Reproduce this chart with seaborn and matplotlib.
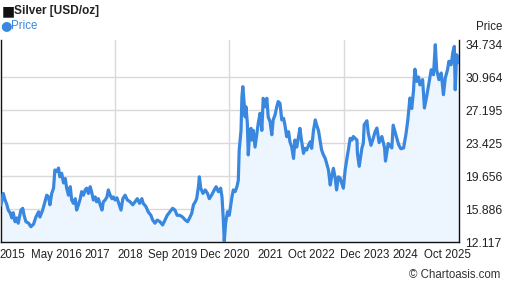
import matplotlib
matplotlib.use("Agg")
import matplotlib.pyplot as plt
import seaborn as sns
import pandas as pd
from matplotlib.ticker import FixedLocator

# ---- data ----
years = [2015.38, 2015.43, 2015.47, 2015.51, 2015.54, 2015.58, 2015.62, 2015.65, 2015.69, 2015.73,
         2015.76, 2015.82, 2015.86, 2015.89, 2015.93, 2015.99, 2016.04, 2016.10, 2016.15, 2016.21,
         2016.24, 2016.30, 2016.35, 2016.39, 2016.43, 2016.46, 2016.50, 2016.54, 2016.57, 2016.61,
         2016.65, 2016.68, 2016.72, 2016.76, 2016.80, 2016.83, 2016.87, 2016.91, 2016.94, 2016.98,
         2017.02, 2017.05, 2017.09, 2017.13, 2017.16, 2017.20, 2017.24, 2017.27, 2017.31, 2017.35,
         2017.38, 2017.42, 2017.46, 2017.49, 2017.53, 2017.57, 2017.61, 2017.64, 2017.68, 2017.72,
         2017.75, 2017.79, 2017.83, 2017.86, 2017.90, 2017.94, 2017.99, 2018.03, 2018.07, 2018.12,
         2018.17, 2018.23, 2018.29, 2018.34, 2018.39, 2018.44, 2018.49, 2018.52, 2018.58, 2018.63,
         2018.69, 2018.73, 2018.78, 2018.83, 2018.89, 2018.95, 2019.00, 2019.05, 2019.11, 2019.17,
         2019.22, 2019.27, 2019.33, 2019.39, 2019.45, 2019.50, 2019.54, 2019.59, 2019.63, 2019.67,
         2019.70, 2019.74, 2019.76, 2019.79, 2019.84, 2019.89, 2019.94, 2019.98, 2020.03, 2020.09,
         2020.13, 2020.18, 2020.23, 2020.26, 2020.29, 2020.31, 2020.34, 2020.38, 2020.42, 2020.48,
         2020.51, 2020.55, 2020.59, 2020.62, 2020.64, 2020.68, 2020.70, 2020.72, 2020.75, 2020.77,
         2020.79, 2020.82, 2020.84, 2020.87, 2020.90, 2020.92, 2020.95, 2020.99, 2021.03, 2021.06,
         2021.10, 2021.14, 2021.17, 2021.21, 2021.25, 2021.28, 2021.32, 2021.36, 2021.39, 2021.43,
         2021.47, 2021.50, 2021.54, 2021.58, 2021.62, 2021.65, 2021.69, 2021.73, 2021.76, 2021.80,
         2021.84, 2021.87, 2021.91, 2021.95, 2021.98, 2022.02, 2022.06, 2022.09, 2022.13, 2022.17,
         2022.21, 2022.24, 2022.28, 2022.32, 2022.35, 2022.39, 2022.43, 2022.46, 2022.50, 2022.54,
         2022.57, 2022.61, 2022.65, 2022.68, 2022.72, 2022.76, 2022.79, 2022.83, 2022.87, 2022.94,
         2022.98, 2023.02, 2023.05, 2023.09, 2023.13, 2023.16, 2023.20, 2023.24, 2023.25, 2023.29,
         2023.35, 2023.38, 2023.40, 2023.46, 2023.49, 2023.55, 2023.60, 2023.64, 2023.68, 2023.73,
         2023.79, 2023.85, 2023.87, 2023.93, 2024.01, 2024.04, 2024.12, 2024.16, 2024.21, 2024.27,
         2024.32, 2024.36, 2024.41, 2024.45, 2024.49, 2024.50, 2024.52, 2024.56, 2024.60, 2024.63,
         2024.69, 2024.73, 2024.78, 2024.83, 2024.88, 2024.93, 2024.97, 2025.00, 2025.05, 2025.10,
         2025.15, 2025.19, 2025.24, 2025.27, 2025.32, 2025.36, 2025.39, 2025.41, 2025.44, 2025.48,
         2025.50]

prices = [16.38, 17.70, 16.95, 16.40, 15.80, 15.50, 14.90, 15.50, 14.47, 14.90,
          14.30, 15.80, 16.00, 15.20, 14.47, 14.30, 13.90, 14.20, 15.00, 15.60,
          15.00, 15.80, 16.75, 17.50, 17.30, 16.40, 17.70, 18.30, 20.38, 20.20,
          20.60, 19.60, 20.00, 18.90, 19.40, 18.30, 17.50, 18.47, 16.95, 16.57,
          17.10, 15.80, 16.40, 17.10, 17.90, 17.50, 18.10, 18.30, 17.70, 18.47,
          17.90, 16.95, 17.30, 16.75, 17.10, 16.40, 15.80, 16.75, 16.95, 17.30,
          18.10, 17.50, 17.10, 17.30, 16.95, 17.20, 16.40, 15.80, 17.10, 17.50,
          16.95, 16.75, 16.40, 16.75, 17.10, 16.57, 17.10, 16.57, 16.20, 15.60,
          15.20, 14.66, 14.30, 14.66, 14.47, 14.10, 14.66, 15.20, 15.60, 16.00,
          15.80, 15.20, 15.20, 15.00, 14.66, 14.47, 14.85, 15.40, 16.40, 16.75,
          17.10, 18.47, 19.60, 18.30, 17.70, 18.10, 17.70, 17.10, 17.50, 18.10,
          18.47, 17.90, 18.30, 17.30, 14.66, 12.19, 14.30, 15.60, 15.20, 17.30,
          18.10, 17.90, 18.47, 19.20, 22.66, 24.90, 28.75, 29.90, 28.00, 26.46,
          27.60, 25.70, 22.10, 24.57, 25.14, 23.80, 24.90, 23.00, 24.57, 25.70,
          26.85, 24.90, 28.57, 27.60, 28.57, 26.46, 25.90, 24.40, 26.10, 26.66,
          27.60, 28.20, 28.00, 26.10, 26.28, 25.50, 24.18, 24.75, 23.60, 23.00,
          21.70, 23.80, 23.00, 24.18, 25.14, 23.60, 22.28, 22.85, 22.66, 23.20,
          23.60, 22.85, 24.90, 26.10, 25.50, 24.90, 23.60, 22.66, 22.10, 21.70,
          21.14, 20.40, 18.66, 19.60, 20.57, 19.43, 18.10, 19.60, 19.43, 18.30,
          20.40, 21.75, 22.66, 24.00, 23.80, 24.20, 24.00, 23.80, 22.30, 20.80,
          22.90, 23.40, 25.55, 26.00, 24.60, 23.20, 24.00, 24.75, 25.17, 23.50,
          24.20, 22.90, 21.40, 23.40, 22.90, 25.50, 24.00, 23.27, 22.80, 22.90,
          24.40, 25.94, 28.60, 27.40, 29.50, 30.50, 31.90, 30.50, 31.00, 30.10,
          30.70, 27.46, 28.80, 30.30, 31.83, 31.26, 34.69, 31.83, 30.70, 31.46,
          28.98, 30.88, 31.83, 32.80, 32.40, 33.90, 34.50, 29.55, 33.55, 33.17,
          32.60]

tick_years = [2015.63, 2016.60, 2017.50, 2018.23, 2019.16, 2020.33, 2021.32, 2022.23, 2023.40, 2024.30, 2025.23]
tick_labels = ["2015", "May 2016", "2017", "2018", "Sep 2019", "Dec 2020", "2021",
               "Oct 2022", "Dec 2023", "2024", "Oct 2025"]
grid_years = [2017.90, 2020.42, 2022.96]
y_ticks = [12.117, 15.886, 19.656, 23.425, 27.195, 30.964, 34.734]
y_labels = ["12.117", "15.886", "19.656", "23.425", "27.195", "30.964", "34.734"]

assert len(years) == len(prices), (len(years), len(prices))
df = pd.DataFrame({"year": years, "price": prices})

# ---- style ----
sns.set_style("white")
plt.rcParams["font.family"] = ["Liberation Sans", "DejaVu Sans"]

LINE = "#3a87e0"
FILL = "#edf6fe"
TXT = "#222222"
GRID = "#d9d9d9"

W, H = 507, 288
fig = plt.figure(figsize=(W / 100, H / 100), dpi=100)
ax = fig.add_axes([1 / W, 1 - 242.3 / H, (459.3 - 1) / W, (242.3 - 40) / H])

ax.fill_between(df["year"], df["price"], 12.117, color=FILL, lw=0, zorder=1)
sns.lineplot(data=df, x="year", y="price", ax=ax, color=LINE, lw=2.3, zorder=3,
             solid_joinstyle="round")

ax.set_xlim(years[0], years[-1])
ax.set_ylim(12.117, 35.23)

ax.yaxis.tick_right()
ax.set_yticks(y_ticks)
ax.set_yticklabels(y_labels)
ax.tick_params(axis="y", length=0, pad=4.5, labelsize=8.7, labelcolor=TXT)
ax.yaxis.grid(True, color=GRID, lw=1.0, zorder=0)
ygl = ax.yaxis.get_gridlines()
ygl[0].set_visible(False)
ygl[-1].set_visible(False)

ax.set_xticks(tick_years)
ax.set_xticklabels(tick_labels)
ax.xaxis.set_minor_locator(FixedLocator(grid_years))
ax.tick_params(axis="x", which="both", length=0, pad=4.5, labelsize=8.3, labelcolor=TXT)
ax.xaxis.grid(True, which="minor", color=GRID, lw=1.0, zorder=0)
ax.xaxis.grid(False, which="major")
ax.set_axisbelow(True)
ax.set_xlabel("")
ax.set_ylabel("")

for s in ["left", "bottom", "right"]:
    ax.spines[s].set_visible(True)
    ax.spines[s].set_color("#111111")
    ax.spines[s].set_linewidth(1.0)
ax.spines["top"].set_visible(False)

# ---- texts ----
fig.text(1.5 / W, 1 - 11 / H, "\u25A0", fontsize=10, color="#111111", va="center", ha="left",
         family=["DejaVu Sans"])
fig.text(14 / W, 1 - 11 / H, "Silver [USD/oz]", fontsize=8.6, fontweight="bold",
         color=TXT, va="center", ha="left")
fig.text(0.5 / W, 1 - 25.7 / H, "\u25CF", fontsize=9.5, color=LINE, va="center", ha="left",
         family=["DejaVu Sans"])
fig.text(11.5 / W, 1 - 25.7 / H, "Price", fontsize=8.3, color=LINE, va="center", ha="left")
fig.text(502 / W, 1 - 27.3 / H, "Price", fontsize=8.3, color=TXT, va="center", ha="right")
fig.text(500 / W, 1 - 275 / H, "\u00A9 Chartoasis.com", fontsize=8.3, color="#333333",
         va="center", ha="right")

fig.savefig("out.png", dpi=100)
